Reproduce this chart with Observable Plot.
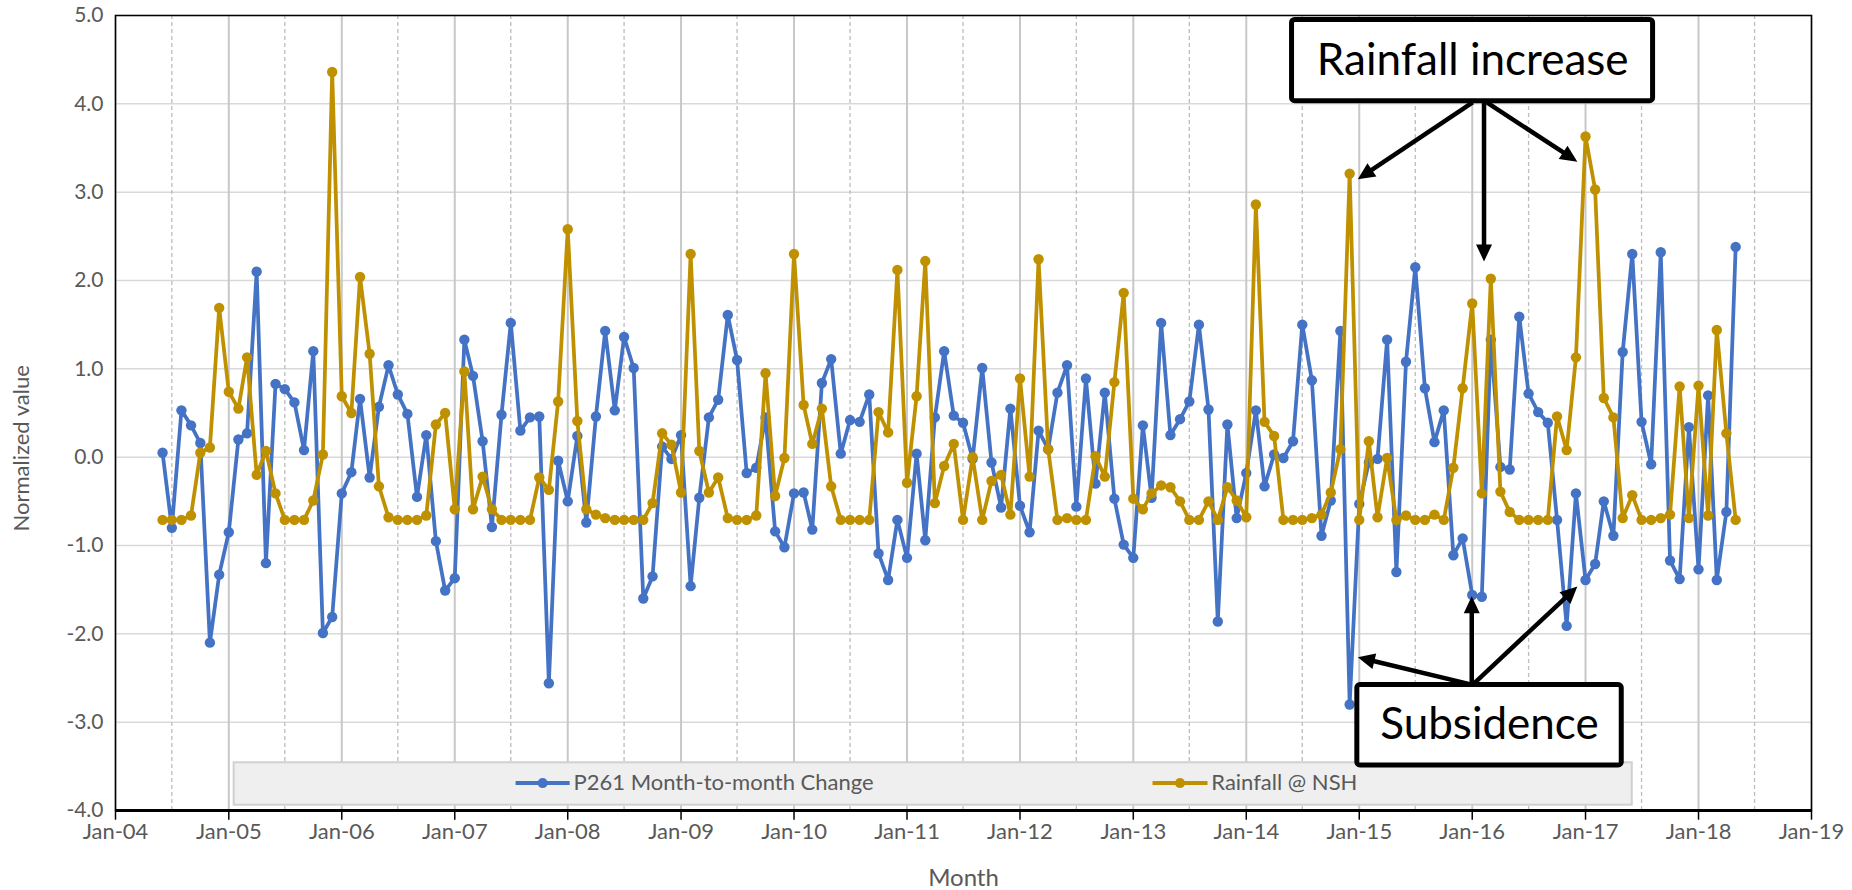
<!DOCTYPE html>
<html>
<head>
<meta charset="utf-8">
<script src="https://cdn.jsdelivr.net/npm/d3@7"></script>
<script src="https://cdn.jsdelivr.net/npm/@observablehq/plot@0.6"></script>
<style>
  html, body { margin: 0; padding: 0; background: #fff; }
  #chart svg { display: block; }
</style>
</head>
<body>
<div id="chart"></div>
<script>
// ---------------- DATA ----------------
// Monthly series, first value = Jun-2004, last value = May-2018
const firstMonth = [2004, 5]; // year, zero-based month (June 2004)

const p261Change = [
  0.05,-0.80,0.53,0.36,0.16,-2.10,-1.33,
  -0.85,0.20,0.27,2.10,-1.20,0.83,0.77,0.62,0.08,1.20,-1.99,-1.81,
  -0.41,-0.17,0.66,-0.23,0.57,1.04,0.71,0.49,-0.45,0.25,-0.95,-1.51,
  -1.37,1.33,0.92,0.18,-0.79,0.48,1.52,0.30,0.45,0.46,-2.56,-0.04,
  -0.50,0.24,-0.74,0.46,1.43,0.53,1.36,1.01,-1.60,-1.35,0.12,-0.02,
  0.25,-1.46,-0.46,0.45,0.65,1.61,1.10,-0.18,-0.12,0.45,-0.84,-1.02,
  -0.41,-0.40,-0.82,0.84,1.11,0.04,0.42,0.40,0.71,-1.09,-1.39,-0.71,
  -1.14,0.04,-0.94,0.45,1.20,0.47,0.39,-0.02,1.01,-0.06,-0.57,0.55,
  -0.55,-0.85,0.30,0.09,0.73,1.04,-0.56,0.89,-0.30,0.73,-0.47,-0.99,
  -1.14,0.36,-0.46,1.52,0.25,0.43,0.63,1.50,0.54,-1.86,0.37,-0.69,
  -0.18,0.53,-0.33,0.03,-0.01,0.18,1.50,0.87,-0.89,-0.49,1.43,-2.80,
  -0.53,-0.06,-0.02,1.33,-1.30,1.08,2.15,0.78,0.17,0.53,-1.11,-0.92,
  -1.56,-1.58,1.33,-0.11,-0.14,1.59,0.72,0.51,0.39,-0.71,-1.91,-0.41,
  -1.39,-1.21,-0.50,-0.89,1.19,2.30,0.40,-0.08,2.32,-1.17,-1.38,0.34,
  -1.27,0.70,-1.39,-0.62,2.38
];

const rainfallNSH = [
  -0.71,-0.71,-0.71,-0.66,0.05,0.11,1.69,
  0.74,0.55,1.13,-0.20,0.07,-0.41,-0.71,-0.71,-0.71,-0.49,0.03,4.36,
  0.69,0.50,2.04,1.17,-0.33,-0.68,-0.71,-0.71,-0.71,-0.66,0.37,0.50,
  -0.59,0.97,-0.59,-0.22,-0.59,-0.71,-0.71,-0.71,-0.71,-0.23,-0.37,0.63,
  2.58,0.41,-0.59,-0.65,-0.69,-0.71,-0.71,-0.71,-0.71,-0.52,0.27,0.14,
  -0.40,2.30,0.07,-0.40,-0.23,-0.69,-0.71,-0.71,-0.66,0.95,-0.44,-0.01,
  2.30,0.59,0.15,0.55,-0.33,-0.71,-0.71,-0.71,-0.71,0.51,0.28,2.12,
  -0.29,0.69,2.22,-0.52,-0.10,0.15,-0.71,0.00,-0.71,-0.27,-0.20,-0.65,
  0.89,-0.22,2.24,0.09,-0.71,-0.69,-0.71,-0.71,0.01,-0.22,0.85,1.86,
  -0.47,-0.59,-0.41,-0.32,-0.34,-0.50,-0.71,-0.71,-0.50,-0.71,-0.34,-0.49,
  -0.68,2.86,0.40,0.24,-0.71,-0.71,-0.71,-0.69,-0.65,-0.40,0.09,3.21,
  -0.71,0.18,-0.68,-0.01,-0.71,-0.66,-0.71,-0.71,-0.65,-0.71,-0.12,0.78,
  1.74,-0.41,2.02,-0.39,-0.62,-0.71,-0.71,-0.71,-0.71,0.46,0.08,1.13,
  3.63,3.03,0.67,0.45,-0.69,-0.43,-0.71,-0.71,-0.69,-0.65,0.80,-0.69,
  0.81,-0.66,1.44,0.27,-0.71
];

const seriesNames = ["P261 Month-to-month Change", "Rainfall @ NSH"];
const seriesColors = ["#4472C4", "#BF9000"];

const yTickValues = [-4, -3, -2, -1, 0, 1, 2, 3, 4, 5];
const xTickYears = [2004,2005,2006,2007,2008,2009,2010,2011,2012,2013,2014,2015,2016,2017,2018,2019];
const xMinorYears = [2004,2005,2006,2007,2008,2009,2010,2011,2012,2013,2014,2015,2016,2017,2018];

const yAxisTitle = "Normalized value";
const xAxisTitle = "Month";
const yAxisTitleAt = 0.1; // vertical centre of the y-axis title, in y units

// Annotation callouts (positions in months since Jan-2004, values in y units)
const annotationBoxes = [
  {label: "Rainfall increase", m1: 124.9, m2: 163.2, v1: 4.95, v2: 4.03},
  {label: "Subsidence",        m1: 131.8, m2: 159.9, v1: -2.58, v2: -3.49}
];
const annotationArrows = [
  {m1: 144.1, v1: 4.01,  m2: 131.9, v2: 3.14},
  {m1: 145.3, v1: 4.01,  m2: 145.3, v2: 2.21},
  {m1: 145.6, v1: 4.01,  m2: 155.2, v2: 3.34},
  {m1: 144.0, v1: -2.58, m2: 131.9, v2: -2.27},
  {m1: 144.0, v1: -2.58, m2: 144.0, v2: -1.58},
  {m1: 144.3, v1: -2.56, m2: 155.2, v2: -1.47}
];

// Legend layout (months since Jan-2004 / y units)
const legendBox = {m1: 12.56, m2: 161.0, v1: -3.46, v2: -3.94};
const legendRow = -3.69;
const legendItems = [
  {lineM1: 42.5, lineM2: 48.2, dotM: 45.35, textM: 48.6},
  {lineM1: 110.1, lineM2: 115.9, dotM: 113.0, textM: 116.3}
];

// ---------------- BUILD ----------------
const monthToDate = (m) => {
  const k = Math.floor(m);
  const a = Date.UTC(2004, k, 1), b = Date.UTC(2004, k + 1, 1);
  return new Date(a + (m - k) * (b - a));
};
const seriesDate = (i) => new Date(Date.UTC(firstMonth[0], firstMonth[1] + i, 1));

const blueData = p261Change.map((v, i) => ({date: seriesDate(i), value: v}));
const goldData = rainfallNSH.map((v, i) => ({date: seriesDate(i), value: v}));

const janTicks = xTickYears.map(y => new Date(Date.UTC(y, 0, 1)));
const julTicks = xMinorYears.map(y => new Date(Date.UTC(y, 6, 1)));

const W = 1852, H = 890;
const fontFamily = "Lato, 'Open Sans', sans-serif";
const gray = "#595959";

function arrowsMark(index, scales) {
  const g = d3.create("svg:g");
  if (!scales || !scales.x || !scales.y) return g.node();
  const headLen = 17, headHalf = 8;
  for (const a of annotationArrows) {
    const x1 = scales.x(monthToDate(a.m1)), y1 = scales.y(a.v1);
    const x2 = scales.x(monthToDate(a.m2)), y2 = scales.y(a.v2);
    const dx = x2 - x1, dy = y2 - y1, L = Math.hypot(dx, dy);
    const ux = dx / L, uy = dy / L;
    const bx = x2 - ux * headLen, by = y2 - uy * headLen;
    g.append("line")
      .attr("x1", x1).attr("y1", y1).attr("x2", bx + ux * 2).attr("y2", by + uy * 2)
      .attr("stroke", "#000").attr("stroke-width", 4.5);
    g.append("path")
      .attr("d", `M${x2},${y2}L${bx - uy * headHalf},${by + ux * headHalf}L${bx + uy * headHalf},${by - ux * headHalf}Z`)
      .attr("fill", "#000");
  }
  return g.node();
}

const chart = Plot.plot({
  width: W,
  height: H,
  marginLeft: 115,
  marginRight: 41,
  marginTop: 15,
  marginBottom: 80,
  style: {fontFamily, fontSize: "22px", background: "#fff", overflow: "visible"},
  x: {type: "utc", domain: [janTicks[0], janTicks[janTicks.length - 1]], axis: null},
  y: {domain: [-4, 5], axis: null},
  marks: [
    // gridlines
    Plot.ruleY(yTickValues, {stroke: "#d9d9d9", strokeWidth: 1.5}),
    Plot.ruleX(julTicks, {stroke: "#bdbdbd", strokeWidth: 1.3, strokeDasharray: "4,3"}),
    Plot.ruleX(janTicks, {stroke: "#c8c8c8", strokeWidth: 2}),
    // frame and axis line
    Plot.frame({stroke: "#000", strokeWidth: 1.5}),
    Plot.ruleY([-4], {stroke: "#000", strokeWidth: 3}),
    // x tick marks
    Plot.ruleX(janTicks, {y1: -4, y2: -4.11, stroke: "#000", strokeWidth: 1.5}),
    // axes labels
    Plot.axisX(janTicks, {tickFormat: d3.utcFormat("%b-%y"), tickSize: 0, tickPadding: 13, fontSize: 22, color: gray, label: null}),
    Plot.axisY(yTickValues, {tickFormat: d => d.toFixed(1), tickSize: 0, tickPadding: 12, fontSize: 21, color: gray, label: null}),
    Plot.text([xAxisTitle], {frameAnchor: "bottom", dy: 75, text: d => d, fontSize: 24, fill: gray}),
    Plot.text([yAxisTitle], {frameAnchor: "left", y: () => yAxisTitleAt, dx: -94, rotate: -90, textAnchor: "middle", lineAnchor: "middle", text: d => d, fontSize: 22, fill: gray}),
    // legend
    Plot.rect([legendBox], {x1: d => monthToDate(d.m1), x2: d => monthToDate(d.m2), y1: "v1", y2: "v2", fill: "#efefef", stroke: "#d0d0d0", strokeWidth: 2}),
    Plot.link([legendItems[0]], {x1: d => monthToDate(d.lineM1), x2: d => monthToDate(d.lineM2), y1: legendRow, y2: legendRow, stroke: seriesColors[0], strokeWidth: 4}),
    Plot.dot([legendItems[0]], {x: d => monthToDate(d.dotM), y: legendRow, r: 5, fill: seriesColors[0]}),
    Plot.text([legendItems[0]], {x: d => monthToDate(d.textM), y: legendRow, text: () => seriesNames[0], textAnchor: "start", fontSize: 22, fill: gray}),
    Plot.link([legendItems[1]], {x1: d => monthToDate(d.lineM1), x2: d => monthToDate(d.lineM2), y1: legendRow, y2: legendRow, stroke: seriesColors[1], strokeWidth: 4}),
    Plot.dot([legendItems[1]], {x: d => monthToDate(d.dotM), y: legendRow, r: 5, fill: seriesColors[1]}),
    Plot.text([legendItems[1]], {x: d => monthToDate(d.textM), y: legendRow, text: () => seriesNames[1], textAnchor: "start", fontSize: 22, fill: gray}),
    // series
    Plot.line(blueData, {x: "date", y: "value", stroke: seriesColors[0], strokeWidth: 3.75, strokeLinejoin: "round"}),
    Plot.dot(blueData, {x: "date", y: "value", r: 5.2, fill: seriesColors[0]}),
    Plot.line(goldData, {x: "date", y: "value", stroke: seriesColors[1], strokeWidth: 3.75, strokeLinejoin: "round"}),
    Plot.dot(goldData, {x: "date", y: "value", r: 5.2, fill: seriesColors[1]}),
    // annotations
    Plot.rect(annotationBoxes, {x1: d => monthToDate(d.m1), x2: d => monthToDate(d.m2), y1: "v1", y2: "v2", fill: "#fff", stroke: "#000", strokeWidth: 5, rx: 3}),
    Plot.text(annotationBoxes, {x: d => monthToDate((d.m1 + d.m2) / 2), y: d => (d.v1 + d.v2) / 2, text: "label", fontSize: 44, fill: "#000"}),
    arrowsMark
  ]
});

document.getElementById("chart").appendChild(chart);
</script>
</body>
</html>
